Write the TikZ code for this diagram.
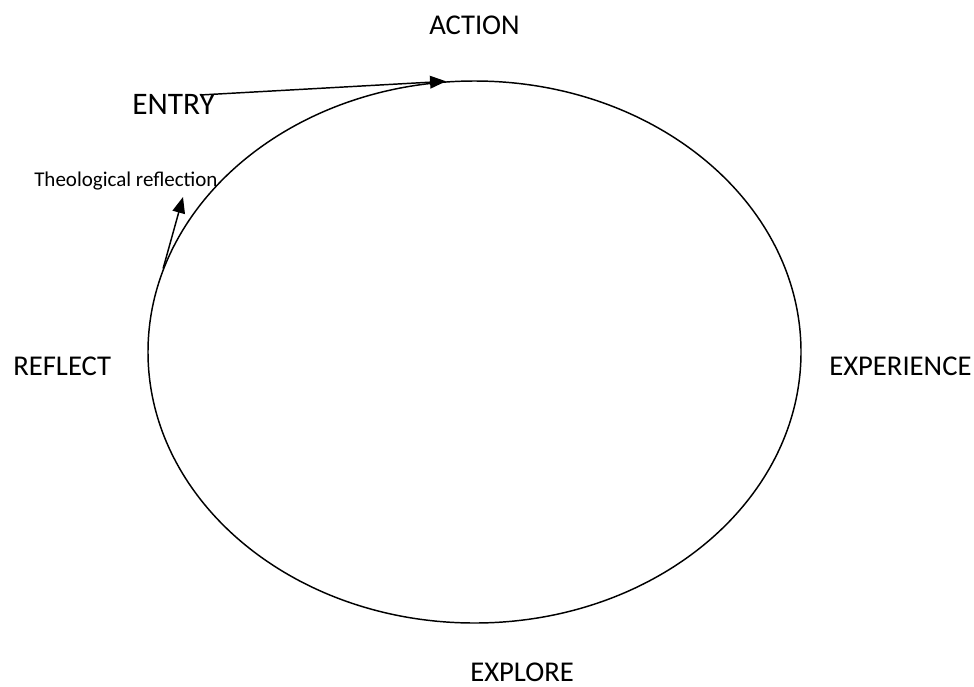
\documentclass[tikz,border=0pt]{standalone}
\usepackage{fontspec}
\setmainfont{Carlito}
\usetikzlibrary{arrows.meta,shapes.geometric}

\begin{document}
\begin{tikzpicture}[x=0.75pt,y=-0.75pt]
\tikzset{stage/.style={anchor=base west,inner sep=0pt,font=\fontsize{21.5}{26}\selectfont},
  cyclearrow/.style={line width=1.1pt,-{Triangle[length=12pt,width=9.5pt]}}}
\useasboundingbox (0,0) rectangle (974,686);

    \node[draw,ellipse,line width=1.1pt,inner sep=0pt,minimum width=489.75pt,minimum height=406.5pt] (wheel) at (474.5,352) {};

    \node[stage] (action) at (429,34) {ACTION};
    \node[stage,font=\fontsize{23.5}{28}\selectfont] (entry) at (132,114) {ENTRY};
    \node[stage,font=\fontsize{15.75}{19}\selectfont] (theo) at (34,186) {Theological reflection};
    \node[stage] (reflect) at (13,375) {REFLECT};
    \node[stage] (experience) at (829,375) {EXPERIENCE};
    \node[stage] (explore) at (470,681) {EXPLORE};

    \coordinate (entrystart) at (200,95);
    \coordinate (theotip) at (183,197);
\draw[cyclearrow] (entrystart) -- (wheel.96);
\draw[cyclearrow] (wheel.165) -- (theotip);
\end{tikzpicture}
\end{document}
